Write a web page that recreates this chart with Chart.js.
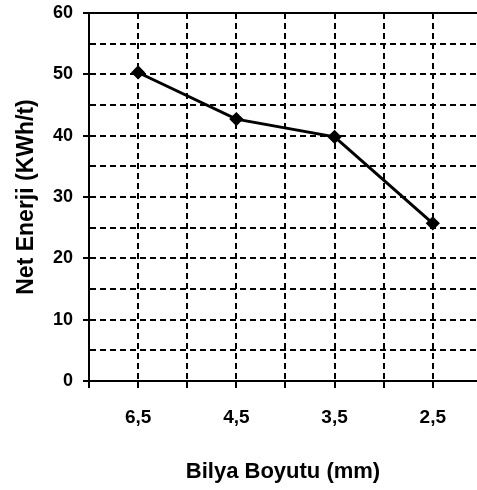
<!DOCTYPE html>
<html>
<head>
<meta charset="utf-8">
<script src="https://cdn.jsdelivr.net/npm/chart.js@4/dist/chart.umd.min.js"></script>
<style>
  html, body { margin: 0; padding: 0; background: #fff; }
  #wrap { width: 477px; height: 490px; }
</style>
</head>
<body>
<div id="wrap"><canvas id="enerjiChart" width="477" height="490"></canvas></div>
<script>
// chart data
const categories = ["6,5", "4,5", "3,5", "2,5"];
const netEnerji = [50.3, 42.7, 39.8, 25.7];
const yTicks = [0, 10, 20, 30, 40, 50, 60];

// each category sits on an odd slot of the x scale (0..8)
const points = categories.map((c, i) => ({ x: 2 * i + 1, y: netEnerji[i] }));
const dash = [6, 4];

const ctx = document.getElementById("enerjiChart").getContext("2d");
const enerjiChart = new Chart(ctx, {
  type: "line",
  data: {
    datasets: [{
      label: "Net Enerji",
      data: points,
      borderColor: "#000",
      backgroundColor: "#000",
      borderWidth: 3,
      pointStyle: "rectRot",
      pointRadius: 5,
      pointHoverRadius: 5,
      tension: 0
    }]
  },
  options: {
    responsive: false,
    animation: false,
    layout: { autoPadding: false, padding: { top: 13, right: 0, left: 0, bottom: 0 } },
    plugins: { legend: { display: false }, tooltip: { enabled: false } },
    scales: {
      x: {
        type: "linear",
        min: 0,
        max: 7.9,
        afterFit: (scale) => {
          scale.height = 109;
          scale.paddingLeft = 0;
          scale.paddingRight = 0;
        },
        ticks: {
          stepSize: 1,
          includeBounds: false,
          autoSkip: false,
          maxRotation: 0,
          padding: 18,
          color: "#000",
          font: { family: "Liberation Sans", size: 19, weight: "bold" },
          callback: (v) => (v % 2 === 1 ? categories[(v - 1) / 2] : "")
        },
        grid: {
          color: "#000",
          lineWidth: 2,
          tickLength: 7,
          tickColor: "#000",
          tickWidth: 2
        },
        border: { display: true, color: "#000", width: 2, dash: dash },
        title: {
          display: true,
          text: "Bilya Boyutu (mm)",
          color: "#000",
          font: { family: "Liberation Sans", size: 22, weight: "bold" },
          padding: { top: 0, bottom: 5 }
        }
      },
      y: {
        min: 0,
        max: 60,
        afterFit: (scale) => {
          scale.width = 89;
          scale.paddingTop = 0;
          scale.paddingBottom = 0;
        },
        ticks: {
          stepSize: 5,
          padding: 10,
          color: "#000",
          font: { family: "Liberation Sans", size: 18, weight: "bold" },
          callback: (v) => (yTicks.includes(v) ? v : "")
        },
        grid: {
          color: "#000",
          lineWidth: 2,
          tickLength: 6,
          tickWidth: 2,
          tickColor: (c) => (c.tick && c.tick.value % 10 === 0 ? "#000" : "rgba(0,0,0,0)")
        },
        border: {
          display: true,
          color: "#000",
          width: 2,
          dash: (c) => (c.tick && c.tick.value === 60 ? [] : dash)
        },
        title: {
          display: true,
          text: "Net Enerji (KWh/t)",
          color: "#000",
          font: { family: "Liberation Sans", size: 23, weight: "bold" },
          padding: { top: 13, bottom: 0 }
        }
      }
    }
  }
});
</script>
</body>
</html>
